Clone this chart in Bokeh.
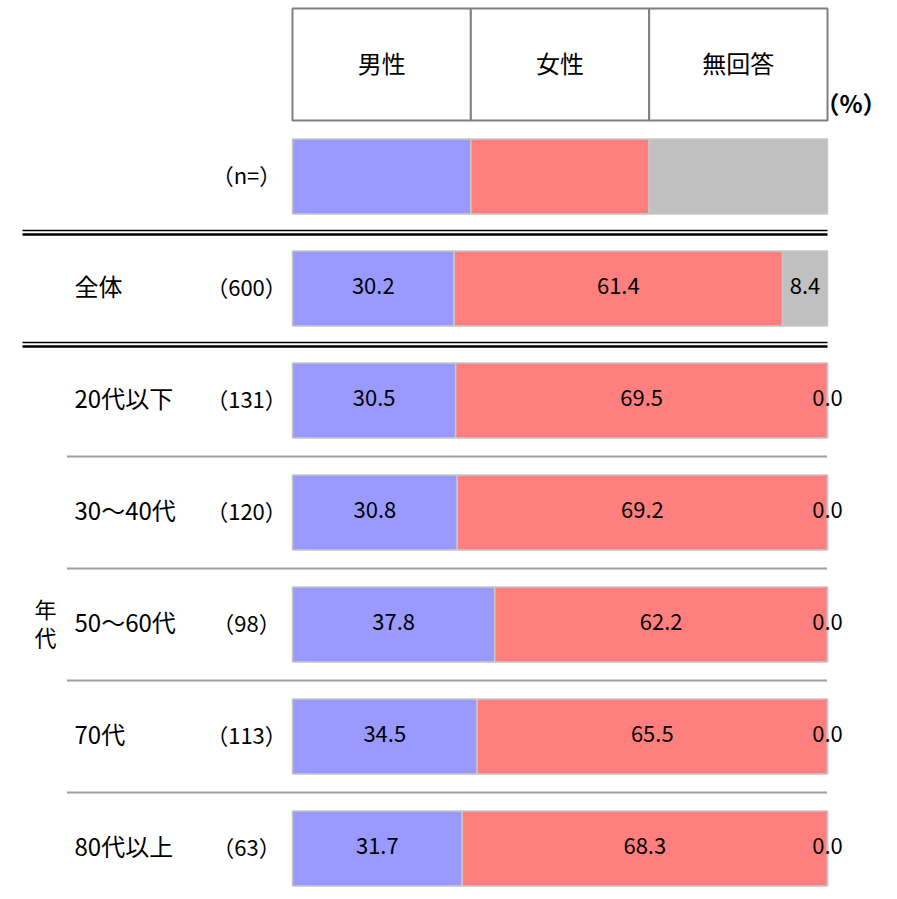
from bokeh.plotting import figure
from bokeh.models import Range1d
from bokeh.embed import file_html
from bokeh.resources import INLINE
from bokeh.core.properties import value

# ---- data ----
categories = ["全体", "20代以下", "30～40代", "50～60代", "70代", "80代以上"]
counts = ["（600）", "（131）", "（120）", "（98）", "（113）", "（63）"]
series_names = ["男性", "女性", "無回答"]
male = [30.2, 30.5, 30.8, 37.8, 34.5, 31.7]
female = [61.4, 69.5, 69.2, 62.2, 65.5, 68.3]
no_answer = [8.4, 0.0, 0.0, 0.0, 0.0, 0.0]
colors = ["#9999FF", "#FF7F7F", "#C0C0C0"]
group_label = "年代"
unit_label = "（%）"
n_label = "（n=）"

FONT = value("Noto Sans CJK JP")

W, H = 889, 891
PPX = 5.35          # pixels per percent
X0 = 292            # pixel position of 0 %
ROWPX = 112         # pixels per row
Y0 = 64             # pixel center of row 0
YOFF = -3           # text vertical nudge (screen px)

def px(dx):
    return dx / PPX

def py(dy):
    return dy / ROWPX

p = figure(width=W, height=H, output_backend="svg", toolbar_location=None,
           x_range=Range1d(-X0 / PPX, (W - X0) / PPX),
           y_range=Range1d((H - Y0) / ROWPX, -Y0 / ROWPX),
           min_border=0, outline_line_color=None)
p.xaxis.visible = False
p.yaxis.visible = False
p.grid.visible = False
p.background_fill_color = "white"
p.border_fill_color = "white"

# header row (row 0)
thirds = [0, 100 / 3, 200 / 3, 100]
p.quad(left=thirds[:-1], right=thirds[1:], top=[-0.5] * 3, bottom=[0.5] * 3,
       fill_color="white", line_color="#808080", line_width=2)
p.text(x=[(thirds[i] + thirds[i + 1]) / 2 for i in range(3)], y=[0] * 3,
       text=series_names, text_align="center", text_baseline="middle",
       text_font=FONT, text_font_size="24px", text_color="black", y_offset=-2)
p.text(x=[100 - px(12)], y=[0.5 - py(14)], text=[unit_label], text_align="left",
       text_baseline="middle", text_font=FONT, text_font_size="24px",
       text_color="black", text_font_style="bold", y_offset=-4)

# legend row (row 1)
BH = 75 / ROWPX
p.hbar(y=[1] * 3, left=thirds[:-1], right=thirds[1:], height=BH,
       fill_color=colors, line_color="#C8C8C8", line_width=1.5)
lab_x = px(246 - 292)
p.text(x=[lab_x], y=[1], text=[n_label], text_align="center", text_baseline="middle",
       text_font=FONT, text_font_size="22px", text_color="black", y_offset=YOFF)

# data rows
rows = [2 + i for i in range(len(categories))]
lefts_m = [0] * len(rows)
rights_m = male
lefts_f = male
rights_f = [m + f for m, f in zip(male, female)]
lefts_n = rights_f
rights_n = [m + f + n for m, f, n in zip(male, female, no_answer)]
for l, r, c in [(lefts_m, rights_m, colors[0]), (lefts_f, rights_f, colors[1]),
                (lefts_n, rights_n, colors[2])]:
    p.hbar(y=rows, left=l, right=r, height=BH, fill_color=c,
           line_color="#C8C8C8", line_width=1.5)
    p.text(x=[(a + b) / 2 for a, b in zip(l, r)], y=rows,
           text=[f"{(b - a):.1f}" for a, b in zip(l, r)],
           text_align="center", text_baseline="middle", text_font=FONT,
           text_font_size="22px", text_color="black", y_offset=YOFF)

# labels
p.text(x=[px(74 - 292)] * len(rows), y=rows, text=categories, text_align="left",
       text_baseline="middle", text_font=FONT, text_font_size="24px",
       text_color="black", y_offset=YOFF)
p.text(x=[lab_x] * len(rows), y=rows, text=counts, text_align="center",
       text_baseline="middle", text_font=FONT, text_font_size="22px",
       text_color="black", y_offset=YOFF)

# group label (vertical)
mid = (rows[1] + rows[-1]) / 2
p.text(x=[px(45 - 292)] * 2, y=[mid - py(14), mid + py(14)], text=list(group_label),
       text_align="center", text_baseline="middle", text_font=FONT,
       text_font_size="22px", text_color="black", y_offset=YOFF)

# double separator lines
for yc in [1.5, 2.5]:
    for off, lw in [(-2.0, 1.5), (2.0, 2.5)]:
        p.segment(x0=[px(22 - 292)], x1=[100], y0=[yc + py(off)], y1=[yc + py(off)],
                  line_color="black", line_width=lw)

# dotted separators between age rows
for yc in rows[1:-1]:
    p.segment(x0=[px(67 - 292)], x1=[100], y0=[yc + 0.5], y1=[yc + 0.5],
              line_color="#404040", line_width=2, line_dash="1 1")

open("out.html", "w").write(file_html(p, INLINE))
